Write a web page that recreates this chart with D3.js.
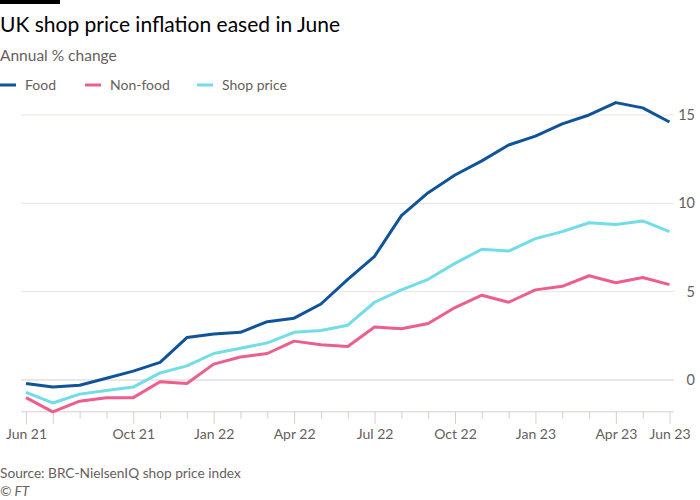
<!DOCTYPE html>
<html>
<head>
<meta charset="utf-8">
<script src="https://cdn.jsdelivr.net/npm/d3@7"></script>
<style>
  html, body { margin: 0; padding: 0; background: #fff; }
  svg { display: block; font-family: Lato, "Noto Sans", sans-serif; }
</style>
</head>
<body>
<svg id="chart" width="700" height="500"></svg>
<script>
const months = ["Jun 21","Jul 21","Aug 21","Sep 21","Oct 21","Nov 21","Dec 21",
  "Jan 22","Feb 22","Mar 22","Apr 22","May 22","Jun 22","Jul 22","Aug 22","Sep 22",
  "Oct 22","Nov 22","Dec 22","Jan 23","Feb 23","Mar 23","Apr 23","May 23","Jun 23"];
const food = [-0.2,-0.4,-0.3,0.1,0.5,1.0,2.4,2.6,2.7,3.3,3.5,4.3,5.7,7.0,9.3,10.6,11.6,12.4,13.3,13.8,14.5,15.0,15.7,15.4,14.6];
const nonFood = [-1.0,-1.8,-1.2,-1.0,-1.0,-0.1,-0.2,0.9,1.3,1.5,2.2,2.0,1.9,3.0,2.9,3.2,4.1,4.8,4.4,5.1,5.3,5.9,5.5,5.8,5.4];
const shopPrice = [-0.7,-1.3,-0.8,-0.6,-0.4,0.4,0.8,1.5,1.8,2.1,2.7,2.8,3.1,4.4,5.1,5.7,6.6,7.4,7.3,8.0,8.4,8.9,8.8,9.0,8.4];
const seriesNames = ["Food","Non-food","Shop price"];
const seriesColors = ["#0f5499","#eb5e8d","#72dde8"];
const yTicks = [0,5,10,15];
const xLabels = ["Jun 21","Oct 21","Jan 22","Apr 22","Jul 22","Oct 22","Jan 23","Apr 23","Jun 23"];
const longTicks = ["Jun 21","Jul 21","Oct 21","Jan 22","Apr 22","Jul 22","Oct 22","Jan 23","Apr 23","Jun 23"];

const series = [food, nonFood, shopPrice];
const svg = d3.select("#chart");
const textCol = "#66605c";
const FONT = "Lato, Noto Sans, sans-serif";

// header
svg.append("rect").attr("x",0).attr("y",0).attr("width",60).attr("height",4).attr("fill","#000");
svg.append("text").attr("x",0).attr("y",32).attr("font-size",21).attr("fill","#000")
  .text("UK shop price inflation eased in June");
svg.append("text").attr("x",0).attr("y",61).attr("font-size",15.5).attr("fill",textCol)
  .text("Annual % change");

// legend
const legendX = [0, 85, 197];
seriesNames.forEach((n,i)=>{
  const g = svg.append("g").attr("transform",`translate(${legendX[i]},85)`);
  g.append("line").attr("x1",0).attr("x2",16).attr("y1",0).attr("y2",0)
    .attr("stroke",seriesColors[i]).attr("stroke-width",3);
  g.append("text").attr("x",25).attr("y",5).attr("font-size",14).attr("fill",textCol).text(n);
});

// scales
const x = d3.scalePoint().domain(months).range([26, 669.5]);
const y = d3.scaleLinear().domain([-1.8, 16]).range([411.8, 97.3]);

// gridlines
svg.append("g").selectAll("line").data(yTicks).join("line")
  .attr("x1",21).attr("x2",674)
  .attr("y1",d=>y(d)).attr("y2",d=>y(d))
  .attr("stroke",d=>d===0?"#d9cfc6":"#ede5de").attr("stroke-width",1);

// right axis labels
const yAxis = d3.axisRight(y).tickValues(yTicks).tickSize(0).tickPadding(0);
const ya = svg.append("g").attr("transform","translate(695,0)").call(yAxis);
ya.select(".domain").remove();
ya.selectAll("text").attr("text-anchor","end").attr("font-size",14.5).attr("fill",textCol)
  .attr("font-family",FONT);

// bottom axis
const baseY = y(-1.8);
svg.append("line").attr("x1",21).attr("x2",674).attr("y1",baseY).attr("y2",baseY)
  .attr("stroke","#d9cfc6").attr("stroke-width",1);
const xa = svg.append("g").attr("transform",`translate(0,${baseY})`)
  .call(d3.axisBottom(x).tickSize(7).tickFormat(d=>xLabels.includes(d)?d:""));
xa.select(".domain").remove();
xa.selectAll(".tick line").attr("stroke","#d9cfc6")
  .attr("y2",d=>longTicks.includes(d)?12:7);
xa.selectAll(".tick text").attr("y",17).attr("font-size",14).attr("fill",textCol)
  .attr("font-family",FONT);

// lines
const line = d3.line().x((d,i)=>x(months[i])).y(d=>y(d));
svg.append("g").selectAll("path").data(series).join("path")
  .attr("d",d=>line(d)).attr("fill","none")
  .attr("stroke",(d,i)=>seriesColors[i]).attr("stroke-width",3)
  .attr("stroke-linejoin","round");

// footer
svg.append("text").attr("x",0).attr("y",478).attr("font-size",13.7).attr("fill",textCol)
  .text("Source: BRC-NielsenIQ shop price index");
svg.append("text").attr("x",0).attr("y",496).attr("font-size",13.7).attr("fill",textCol)
  .attr("font-style","italic").text("© FT");
</script>
</body>
</html>
